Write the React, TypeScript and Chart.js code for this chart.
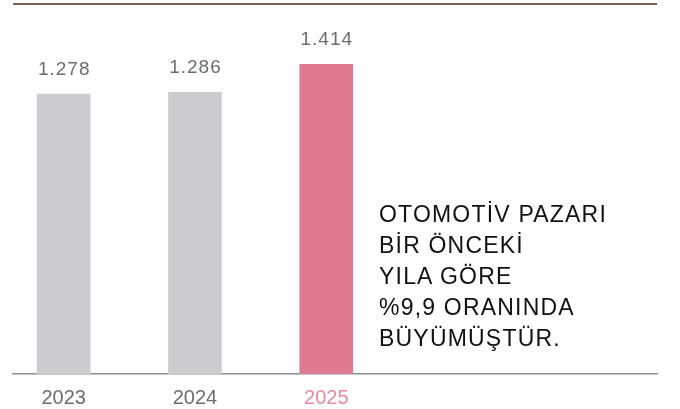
import React, { useEffect, useRef } from "react";
import { Chart, registerables } from "chart.js";

Chart.register(...registerables);

const years = [2023, 2024, 2025];
const values = [1278, 1286, 1414];
const valueLabels = ["1.278", "1.286", "1.414"];
const noteLines = [
  "OTOMOTİV PAZARI",
  "BİR ÖNCEKİ",
  "YILA GÖRE",
  "%9,9 ORANINDA",
  "BÜYÜMÜŞTÜR.",
];

const GRAY_BAR = "#cccccf";
const PINK_BAR = "#de7b90";
const GRAY_TEXT = "#6b6d70";
const PINK_TEXT = "#e88a9d";
const TOP_LINE = "#7a6352";
const AXIS_LINE = "#8b8c8f";
const FONT = "'Liberation Sans', Arial, Helvetica, sans-serif";

export default function App() {
  const canvasRef = useRef<HTMLCanvasElement | null>(null);

  useEffect(() => {
    const canvas = canvasRef.current;
    if (!canvas) return;

    const decor = {
      id: "decor",
      afterDraw(chart: any) {
        const { ctx, chartArea } = chart;
        ctx.save();
        // top rule
        ctx.strokeStyle = TOP_LINE;
        ctx.lineWidth = 2;
        ctx.beginPath();
        ctx.moveTo(chartArea.left, 4);
        ctx.lineTo(chartArea.right, 4);
        ctx.stroke();
        // value labels
        const meta = chart.getDatasetMeta(0);
        ctx.font = `19px ${FONT}`;
        ctx.fillStyle = GRAY_TEXT;
        ctx.textAlign = "center";
        ctx.textBaseline = "alphabetic";
        try {
          (ctx as any).letterSpacing = "1px";
        } catch (e) {}
        meta.data.forEach((bar: any, i: number) => {
          ctx.fillText(valueLabels[i], bar.x + 0.5, bar.y - 19.5);
        });
        ctx.restore();
      },
    };

    const chart = new Chart(canvas, {
      type: "bar",
      data: {
        labels: years.map(String),
        datasets: [
          {
            data: values,
            backgroundColor: years.map((_, i) => (i === years.length - 1 ? PINK_BAR : GRAY_BAR)),
            barThickness: 53,
            borderWidth: 0,
          },
        ],
      },
      options: {
        animation: false,
        responsive: true,
        maintainAspectRatio: false,
        layout: { padding: { left: 13, right: 23, top: 4, bottom: -13 } },
        plugins: {
          legend: { display: false },
          tooltip: { enabled: false },
        },
        scales: {
          x: {
            type: "linear",
            offset: false,
            min: years[0] - 0.386,
            max: years[0] + 4.519,
            afterBuildTicks: (axis: any) => {
              axis.ticks = years.map((v) => ({ value: v }));
            },
            grid: { display: false, drawTicks: false, offset: false },
            border: { display: true, color: AXIS_LINE, width: 1.6 },
            ticks: {
              padding: 14,
              autoSkip: false,
              maxRotation: 0,
              font: { family: FONT, size: 20, lineHeight: 1 },
              color: (ctx: any) =>
                ctx.tick && ctx.tick.value === years[years.length - 1] ? PINK_TEXT : GRAY_TEXT,
              callback: (v: any) => String(v),
            },
          },
          y: {
            display: false,
            min: 0,
            max: 1690,
          },
        },
      },
      plugins: [decor],
    });

    return () => chart.destroy();
  }, []);

  return (
    <div style={{ position: "fixed", left: 0, top: 0, width: 680, height: 409, background: "#fff" }}>
      <canvas ref={canvasRef} />
      <div
        style={{
          position: "absolute",
          left: 379,
          top: 199,
          fontFamily: FONT,
          fontSize: 23,
          lineHeight: "31px",
          letterSpacing: "1.2px",
          color: "#111",
          whiteSpace: "nowrap",
        }}
      >
        {noteLines.map((l, i) => (
          <div key={i}>{l}</div>
        ))}
      </div>
    </div>
  );
}
